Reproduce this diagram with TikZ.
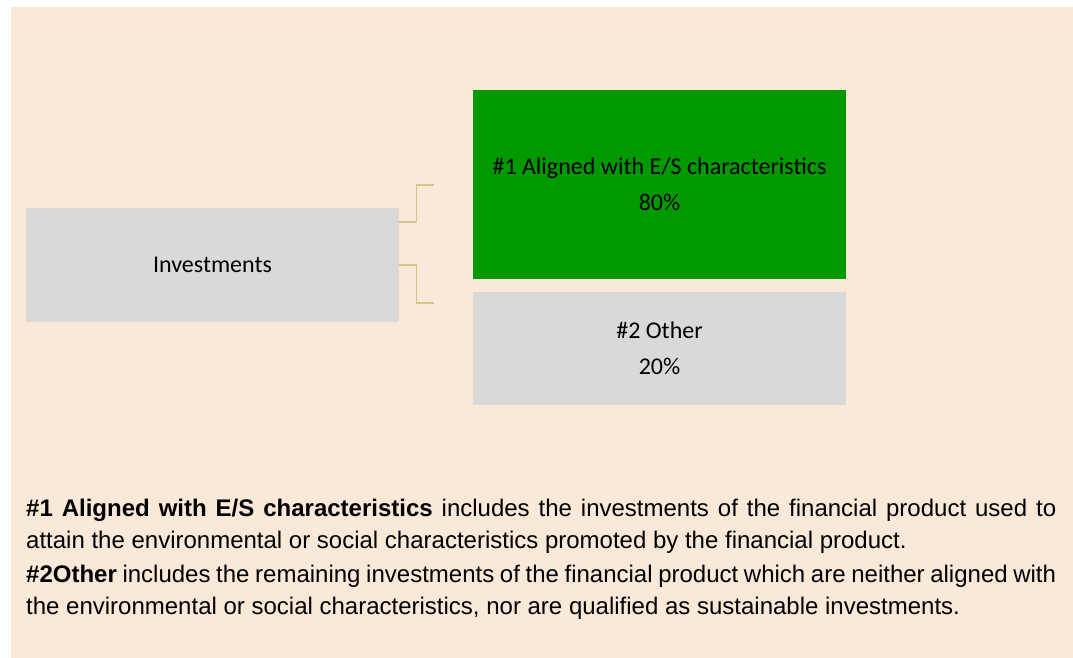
\documentclass[tikz,border=0pt]{standalone}
\usepackage{fontspec}
\setmainfont{Liberation Sans}
\newfontfamily\calibri{Carlito}
\definecolor{bgc}{HTML}{FAE8D8}
\definecolor{grn}{HTML}{009900}
\definecolor{gry}{HTML}{D9D9D9}
\definecolor{brk}{HTML}{D2C78A}
\tikzset{
  boxnode/.style={rectangle, inner sep=0pt, minimum width=373pt, align=center,
    font=\calibri\fontsize{24}{36}\selectfont},
  brkline/.style={draw=brk, line width=1.4pt},
}
\begin{document}
\begin{tikzpicture}[x=1pt,y=-1pt]
\useasboundingbox (0,0) rectangle (1073,658);
\fill[bgc] (11,7) rectangle (1073,658);
\node[boxnode, fill=gry, minimum height=114pt] (inv) at (212.5,265) {Investments};
\node[boxnode, fill=grn, minimum height=189pt] (al) at (659.5,184.5) {\#1 Aligned with E/S characteristics\\80\%};
\node[boxnode, fill=gry, minimum height=113pt] (ot) at (659.5,348.5) {\#2 Other\\20\%};
\coordinate (t1) at (434,185);
\coordinate (t2) at (434,303);
\draw[brkline] ([yshift=43pt]inv.east) -- ++(17,0) |- (t1);
\draw[brkline] (inv.east) -- ++(17,0) |- (t2);
\node[anchor=base west, text width=1030pt, inner sep=0pt, align=justify,
  font=\fontsize{24}{32}\selectfont] (txt) at (26,516)
  {\textbf{\#1 Aligned with E/S characteristics} includes the investments of the financial product used to\linebreak attain the environmental or social characteristics promoted by the financial product.\par\vspace{2pt}
  \textbf{\#2Other} includes the remaining investments of the financial product which are neither aligned with\linebreak the environmental or social characteristics, nor are qualified as sustainable investments.};
\end{tikzpicture}
\end{document}
